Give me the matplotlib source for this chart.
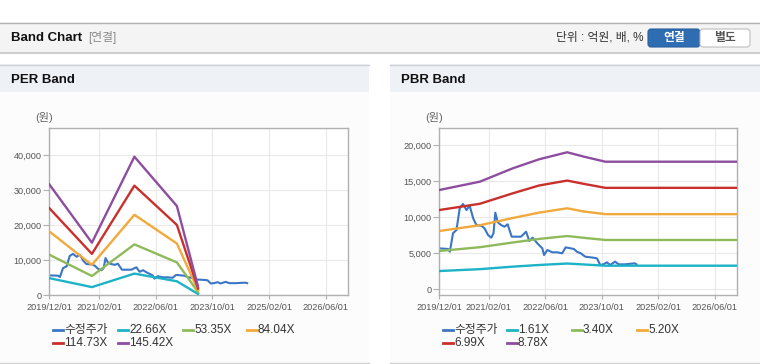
import numpy as np
import pandas as pd
import matplotlib
matplotlib.use("Agg")
import matplotlib.pyplot as plt
from matplotlib.patches import Rectangle, FancyBboxPatch
from matplotlib.lines import Line2D

plt.rcParams['font.family'] = ['Liberation Sans', 'Noto Sans CJK KR']

# adjusted share price (수정주가)
price_dates = ["2019-12-01", "2020-02-15", "2020-03-01", "2020-03-28", "2020-04-27",
               "2020-05-25", "2020-06-22", "2020-07-22", "2020-08-19", "2020-09-18",
               "2020-10-15", "2020-11-28", "2020-12-25", "2021-01-24", "2021-02-21",
               "2021-03-12", "2021-03-28", "2021-04-18", "2021-05-16", "2021-06-15",
               "2021-07-12", "2021-08-16", "2021-11-04", "2021-12-18", "2022-01-15",
               "2022-02-12", "2022-03-25", "2022-05-07", "2022-05-22", "2022-06-19",
               "2022-08-01", "2022-09-12", "2022-10-25", "2022-11-24", "2023-01-06",
               "2023-02-03", "2023-03-01", "2023-04-03", "2023-05-12", "2023-07-22",
               "2023-08-21", "2023-09-18", "2023-10-15", "2023-11-15", "2023-12-12",
               "2024-01-24", "2024-02-24", "2024-04-18", "2024-07-12", "2024-07-27"]
price_values = [5690, 5600, 5220, 7780, 8240, 11250, 11850, 11010, 11610, 9860,
                8930, 8830, 8470, 7540, 7170, 7780, 10640, 9300, 8930, 8700,
                9030, 7310, 7310, 8000, 6710, 7170, 6390, 5690, 4760, 5460,
                5140, 5140, 5000, 5830, 5690, 5600, 5220, 5000, 4530, 4390,
                4300, 3380, 3470, 3750, 3380, 3840, 3470, 3470, 3610, 3470]

# PER band
per_band_dates = ["2019-12-01", "2020-12-01", "2021-12-01", "2022-12-01", "2023-06-01"]
per_labels = ["22.66X", "53.35X", "84.04X", "114.73X", "145.42X"]
per_band_1 = [4900, 2340, 6200, 4000, 380]
per_band_2 = [11600, 5510, 14550, 9400, 900]
per_band_3 = [18250, 8700, 23000, 14800, 1420]
per_band_4 = [24900, 11830, 31330, 20100, 1940]
per_band_5 = [31700, 15030, 39600, 25500, 2460]

# PBR band
pbr_band_dates = ["2019-12-01", "2020-11-15", "2021-08-25", "2022-04-10", "2022-12-07",
                  "2023-05-01", "2023-11-01", "2026-12-10"]
pbr_labels = ["1.61X", "3.40X", "5.20X", "6.99X", "8.78X"]
pbr_band_1 = [2540, 2800, 3150, 3380, 3580, 3450, 3280, 3280]
pbr_band_2 = [5320, 5850, 6500, 7000, 7400, 7150, 6850, 6850]
pbr_band_3 = [8100, 8900, 9900, 10650, 11250, 10800, 10440, 10440]
pbr_band_4 = [11010, 11880, 13330, 14420, 15100, 14640, 14090, 14090]
pbr_band_5 = [13790, 14950, 16800, 18060, 19030, 18420, 17720, 17720]

x_ticks = ["2019-12-01", "2021-02-01", "2022-06-01", "2023-10-01", "2025-02-01", "2026-06-01"]
x_tick_labels = ["2019/12/01", "2021/02/01", "2022/06/01", "2023/10/01", "2025/02/01", "2026/06/01"]

price_label = "수정주가"
price_color = '#3b76c6'
band_colors = ['#1db3c6', '#8fba5a', '#f2a93b', '#c9302c', '#8d4e9f']

W, H = 760, 364
fig = plt.figure(figsize=(W / 100, H / 100), dpi=100)
fig.patch.set_facecolor('white')


def rect(x0, y0, x1, y1, **kw):
    fig.add_artist(Rectangle((x0 / W, 1 - y1 / H), (x1 - x0) / W, (y1 - y0) / H,
                             transform=fig.transFigure, zorder=-2, **kw))


def hline(x0, x1, y, color, lw=1):
    fig.add_artist(Line2D([x0 / W, x1 / W], [1 - y / H, 1 - y / H],
                          transform=fig.transFigure, color=color, lw=lw, zorder=-1))


def text(x, y, s, **kw):
    fig.text(x / W, 1 - y / H, s, va='center', **kw)


# header bar
rect(0, 22, 760, 53, facecolor='#f4f4f4', edgecolor='none')
hline(0, 760, 22.5, '#b4b4b4')
hline(0, 760, 53, '#cfcfcf', lw=1.5)
text(11, 38, "Band Chart", fontsize=9.5, fontweight='bold', color='#111111')
text(88, 38, "[연결]", fontsize=8.5, color='#8a8a8a')
text(643, 38, "단위 : 억원, 배, %", fontsize=8.5, color='#333333', ha='right')
btn1 = FancyBboxPatch((648 / W, 1 - 47 / H), 52 / W, 18 / H, transform=fig.transFigure,
                      boxstyle="round,pad=0,rounding_size=0.004", mutation_aspect=W / H,
                      facecolor='#2f6db3', edgecolor='#2a5f9e', lw=0.8)
fig.add_artist(btn1)
btn2 = FancyBboxPatch((700 / W, 1 - 47 / H), 50 / W, 18 / H, transform=fig.transFigure,
                      boxstyle="round,pad=0,rounding_size=0.004", mutation_aspect=W / H,
                      facecolor='white', edgecolor='#bdbdbd', lw=0.8)
fig.add_artist(btn2)
text(674, 38, "연결", fontsize=8.5, fontweight='bold', color='white', ha='center')
text(725, 38, "별도", fontsize=8.5, fontweight='bold', color='#555555', ha='center')

# panels
for px0, px1, title in [(0, 369, "PER Band"), (390, 760, "PBR Band")]:
    rect(px0, 92, px1, 362, facecolor='#fcfcfc', edgecolor='none')
    rect(px0, 64, px1, 92, facecolor='#eef2f7', edgecolor='none')
    hline(px0, px1, 64.5, '#d0d0d0')
    hline(px0, px1, 362.5, '#d0d0d0')
    text(px0 + 11, 80, title, fontsize=9.5, fontweight='bold', color='#111111')
    text(px0 + 35, 118, "(원)", fontsize=8, color='#666666')


def draw_panel(ax, band_dates, bands, labels, ylim, yticks, leg_x):
    ax.set_facecolor('white')
    ax.plot(pd.to_datetime(price_dates), price_values, color=price_color, lw=1.5, zorder=2)
    for vals, c in zip(bands, band_colors):
        ax.plot(pd.to_datetime(band_dates), vals, color=c, lw=1.7, zorder=3)
    ax.set_xlim(pd.Timestamp("2019-12-01"), pd.Timestamp("2026-12-10"))
    ax.set_ylim(*ylim)
    ax.set_xticks(pd.to_datetime(x_ticks))
    ax.set_xticklabels(x_tick_labels)
    ax.set_yticks(yticks)
    ax.set_yticklabels([f"{v:,}" for v in yticks])
    ax.grid(True, color='#e9e9e9', lw=0.8)
    ax.set_axisbelow(True)
    for sp in ax.spines.values():
        sp.set_color('#b0b0b0')
        sp.set_linewidth(1)
    ax.tick_params(axis='x', length=3, color='#b0b0b0', labelsize=6.6, labelcolor='#555555', pad=2.5)
    ax.tick_params(axis='y', length=4, color='#b0b0b0', labelsize=6.6, labelcolor='#555555', pad=1.5)

    # legend, drawn by hand in two rows
    names = [price_label] + labels
    colors = [price_color] + band_colors
    for i, (n, c) in enumerate(zip(names, colors)):
        x = leg_x[i % 4]
        y = 330 if i < 4 else 343
        fig.add_artist(Line2D([x / W, (x + 10) / W], [1 - y / H, 1 - y / H],
                              transform=fig.transFigure, color=c, lw=2))
        text(x + 11, y, n, fontsize=8.5, color='#333333')


ax1 = fig.add_axes([49.3 / W, 1 - 295.3 / H, (348 - 49.3) / W, (295.3 - 128) / H])
draw_panel(ax1, per_band_dates,
           [per_band_1, per_band_2, per_band_3, per_band_4, per_band_5],
           per_labels, (0, 47800), [0, 10000, 20000, 30000, 40000],
           [53, 118, 183, 247])

ax2 = fig.add_axes([439.3 / W, 1 - 295.3 / H, (737 - 439.3) / W, (295.3 - 128) / H])
draw_panel(ax2, pbr_band_dates,
           [pbr_band_1, pbr_band_2, pbr_band_3, pbr_band_4, pbr_band_5],
           pbr_labels, (-830, 22400), [0, 5000, 10000, 15000, 20000],
           [443, 507, 572, 637])

fig.savefig("out.png", dpi=100)
